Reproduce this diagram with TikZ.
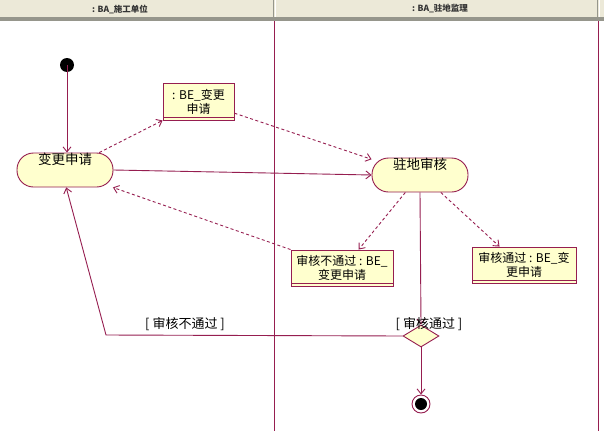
\documentclass[tikz,border=0pt]{standalone}
\usepackage{fontspec}
\setmainfont{Noto Sans CJK SC}
\usetikzlibrary{arrows.meta,shapes.geometric,calc}
\definecolor{ln}{RGB}{150,30,80}
\definecolor{fillc}{RGB}{255,255,206}
\definecolor{hdr}{RGB}{236,233,216}
\definecolor{hdrline}{RGB}{150,150,140}
\tikzset{
  arr/.style={draw=ln, line width=0.9pt, -{Straight Barb[length=5pt,width=8pt]}},
  dasharr/.style={arr, dash pattern=on 3pt off 2.5pt},
  activity/.style={draw=ln, fill=fillc, line width=0.9pt, rounded corners=16.5pt,
    minimum width=96pt, minimum height=34pt, inner sep=0pt, text height=10pt, text depth=21pt, font=\fontsize{13.5}{15}\selectfont},
  objbox/.style={draw=ln, fill=fillc, line width=0.9pt, inner sep=1pt, align=center,
    font=\fontsize{12}{14}\selectfont,
    path picture={\draw[ln, line width=0.9pt] ([yshift=3pt]path picture bounding box.south west) -- ([yshift=3pt]path picture bounding box.south east);}},
  guard/.style={font=\fontsize{13}{15}\selectfont, inner sep=1pt},
  hdrtext/.style={font=\fontsize{8.5}{9}\selectfont\bfseries, text=black!80}
}
\begin{document}
\begin{tikzpicture}[x=1pt,y=-1pt]
\useasboundingbox (0,0) rectangle (604,431);
\fill[white] (0,0) rectangle (604,431);
% header
\fill[hdr] (0,0) rectangle (604,18);
\fill[hdrline] (0,17) rectangle (604,21);
\draw[white, line width=1pt] (275.5,0) -- (275.5,17);
\draw[hdrline, line width=0.8pt] (273.5,0) -- (273.5,17);
\draw[white, line width=1pt] (599,0) -- (599,17);
\draw[hdrline, line width=0.8pt] (597.5,0) -- (597.5,17);
\node[hdrtext] (hA) at (120,9) {: BA\_施工单位};
\node[hdrtext] (hB) at (440,9) {: BA\_驻地监理};
% swimlanes
\draw[ln, line width=0.9pt] (274.5,21) -- (274.5,431);
\draw[ln, line width=0.9pt] (598,21) -- (598,431);
% nodes
\fill[black] (67,65) circle (7);
\coordinate (start) at (67,65);
\node[activity] (req) at (65,170) {变更申请};
\node[activity] (rev) at (420,175) {驻地审核};
\node[objbox, minimum width=71pt, minimum height=37pt] (obj1) at (198.5,101.5) {: BE\_变更\\申请};
\node[objbox, minimum width=102pt, minimum height=36pt] (obj2) at (342,268) {审核不通过 : BE\_\\变更申请};
\node[objbox, minimum width=104pt, minimum height=36pt] (obj3) at (524,265) {审核通过 : BE\_变\\更申请};
\node[diamond, draw=ln, fill=fillc, line width=0.9pt, minimum width=36pt, minimum height=22pt, inner sep=0pt] (dec) at (421,336) {};
\node[circle, draw=ln, fill=white, line width=0.9pt, minimum size=18pt, inner sep=0pt] (end) at (421,404) {};
\fill[black] (end.center) circle (6);
\coordinate (c1) at (106,335);
% connectors
\draw[arr] (start) -- (start |- req.north);
\draw[arr] (req.east) -- (rev.west);
\draw[dasharr] (req.27) -- (obj1.south west);
\draw[dasharr] (obj1.-18) -- (rev.162);
\draw[dasharr] (rev.-130) -- (obj2.48);
\draw[dasharr] (rev.-40) -- (obj3.143);
\draw[dasharr] (obj2.north west) -- (req.-20);
\draw[arr] (rev.south) -- (dec.north);
\draw[arr] (dec.west) -- (c1) -- (req.-86);
\draw[arr] (dec.south) -- (end.north);
% guards
\node[guard] (g1) at (185,324) {[ 审核不通过 ]};
\node[guard] (g2) at (429,324) {[ 审核通过 ]};
\end{tikzpicture}
\end{document}
